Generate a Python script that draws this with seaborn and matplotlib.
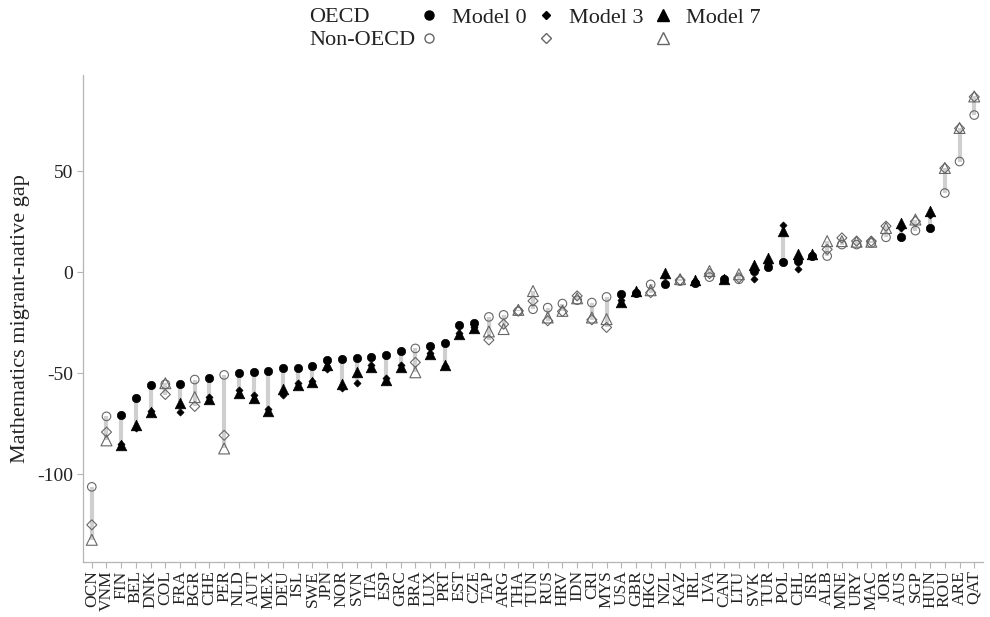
import numpy as np
import pandas as pd
import seaborn as sns
import matplotlib.pyplot as plt
from matplotlib.lines import Line2D

countries = ['OCN', 'VNM', 'FIN', 'BEL', 'DNK', 'COL', 'FRA', 'BGR', 'CHE', 'PER',
             'NLD', 'AUT', 'MEX', 'DEU', 'ISL', 'SWE', 'JPN', 'NOR', 'SVN', 'ITA',
             'ESP', 'GRC', 'BRA', 'LUX', 'PRT', 'EST', 'CZE', 'TAP', 'ARG', 'THA',
             'TUN', 'RUS', 'HRV', 'IDN', 'CRI', 'MYS', 'USA', 'GBR', 'HKG', 'NZL',
             'KAZ', 'IRL', 'LVA', 'CAN', 'LTU', 'SVK', 'TUR', 'POL', 'CHL', 'ISR',
             'ALB', 'MNE', 'URY', 'MAC', 'JOR', 'AUS', 'SGP', 'HUN', 'ROU', 'ARE', 'QAT']

oecd_members = {'FIN', 'BEL', 'DNK', 'FRA', 'CHE', 'NLD', 'AUT', 'MEX', 'DEU', 'ISL',
                'SWE', 'JPN', 'NOR', 'SVN', 'ITA', 'ESP', 'GRC', 'LUX', 'PRT', 'EST',
                'CZE', 'USA', 'GBR', 'NZL', 'IRL', 'CAN', 'SVK', 'TUR', 'POL', 'CHL',
                'ISR', 'AUS', 'HUN'}

model0 = [-106.3, -71.4, -70.9, -62.2, -55.8, -55.5, -55.3, -53.2, -52.5, -50.9,
          -49.8, -49.6, -48.8, -47.5, -47.5, -46.6, -43.5, -43.0, -42.5, -41.9,
          -40.9, -38.9, -37.8, -36.5, -35.3, -26.3, -25.0, -22.2, -21.2, -19.5,
          -18.4, -17.6, -15.6, -13.9, -15.1, -12.3, -10.7, -10.2, -6.1, -6.0,
          -4.5, -5.2, -2.5, -3.6, -3.6, 0.5, 2.5, 5.1, 5.4, 7.9,
          7.9, 13.6, 13.6, 14.4, 17.2, 17.2, 20.5, 21.8, 39.1, 54.7, 77.7]

model3 = [-125.1, -79.2, -85.0, -77.0, -69.0, -60.6, -69.3, -66.5, -62.0, -80.8,
          -58.5, -61.0, -68.0, -60.6, -55.0, -54.0, -47.9, -57.3, -54.8, -46.0,
          -52.5, -46.0, -44.7, -40.0, -46.5, -30.0, -27.0, -33.6, -25.8, -19.2,
          -14.3, -24.1, -19.5, -11.8, -23.6, -27.4, -14.0, -9.8, -10.2, -2.0,
          -4.0, -4.5, -0.8, -3.6, -2.8, -3.6, 4.0, 23.5, 1.3, 8.5,
          11.2, 16.9, 15.3, 15.3, 22.7, 22.0, 25.1, 28.0, 51.4, 71.1, 86.7]

model7 = [-132.5, -83.3, -85.7, -75.5, -69.3, -55.0, -64.9, -61.9, -62.7, -87.3,
          -60.0, -62.2, -68.8, -57.8, -55.8, -54.5, -46.0, -55.3, -49.3, -46.8,
          -53.4, -47.1, -49.6, -40.6, -45.8, -30.7, -27.7, -29.4, -28.2, -18.7,
          -9.4, -22.5, -19.2, -13.0, -22.5, -23.3, -14.6, -9.4, -9.0, -0.3,
          -3.5, -4.1, 0.5, -3.3, -1.1, 3.4, 7.0, 20.5, 9.0, 8.7,
          15.3, 15.3, 15.0, 15.0, 21.8, 24.3, 26.0, 30.0, 51.5, 71.3, 86.9]

model_labels = ['Model 0', 'Model 3', 'Model 7']

df = pd.DataFrame({'country': countries, 'm0': model0, 'm3': model3, 'm7': model7})
df['pos'] = np.arange(len(df))
df['oecd'] = df['country'].isin(oecd_members)
df['lo'] = df[['m0', 'm3', 'm7']].min(axis=1)
df['hi'] = df[['m0', 'm3', 'm7']].max(axis=1)

sns.set_theme(style='white')
plt.rcParams['font.family'] = ['Liberation Serif', 'DejaVu Serif']
plt.rcParams['axes.unicode_minus'] = False

text_col = '#222222'
hollow_col = '#666666'
axis_col = '#b5b5b5'

fig = plt.figure(figsize=(9.9, 6.17), dpi=100)
ax = fig.add_axes([0.0838, 0.0891, 0.9092, 0.7893])

ax.vlines(df['pos'], df['lo'], df['hi'], color='#cfcfcf', lw=3, zorder=1)

# marker style per model: (marker, size filled, size hollow)
styles = {'m0': ('o', 36, 38), 'm3': ('D', 13, 26), 'm7': ('^', 58, 62)}
for col, (mk, s_fill, s_hol) in styles.items():
    filled = df[df['oecd']]
    hollow = df[~df['oecd']]
    sns.scatterplot(data=filled, x='pos', y=col, marker=mk, s=s_fill,
                    color='black', edgecolor='black', linewidth=0.5,
                    ax=ax, zorder=3)
    sns.scatterplot(data=hollow, x='pos', y=col, marker=mk, s=s_hol,
                    facecolor='none', edgecolor=hollow_col, linewidth=0.8,
                    ax=ax, zorder=3)

ax.set_xlim(-0.6, len(countries) - 0.4)
ax.set_ylim(-143.5, 97.5)
ax.set_xticks(df['pos'], countries, rotation=90)
ax.set_yticks([-100, -50, 0, 50])
ax.set_xlabel('')
ax.set_ylabel('Mathematics migrant-native gap', fontsize=16, color=text_col, labelpad=5)
ax.tick_params(axis='x', labelsize=12.5, colors=axis_col, labelcolor=text_col,
               length=4, width=0.8, pad=2, bottom=True)
ax.tick_params(axis='y', labelsize=14, colors=axis_col, labelcolor=text_col,
               length=4, width=0.8, pad=3, left=True)
for side in ['top', 'right']:
    ax.spines[side].set_visible(False)
for side in ['left', 'bottom']:
    ax.spines[side].set_color(axis_col)
    ax.spines[side].set_linewidth(0.9)

# legend: filled row (OECD) and hollow row (Non-OECD)
filled_handles = [Line2D([], [], ls='', marker=m, color='black', markersize=ms)
                  for m, ms in [('o', 6.5), ('D', 4.0), ('^', 8)]]
hollow_handles = [Line2D([], [], ls='', marker=m, markerfacecolor='none',
                         markeredgecolor=hollow_col, markersize=ms)
                  for m, ms in [('o', 6.5), ('D', 5.5), ('^', 8.5)]]
leg_kw = dict(ncol=3, frameon=False, fontsize=16, handlelength=1.0,
              handletextpad=0.55, columnspacing=0.36, borderpad=0,
              borderaxespad=0, loc='center left')
leg1 = fig.legend(filled_handles, model_labels, bbox_to_anchor=(0.422, 0.971), **leg_kw)
leg2 = fig.legend(hollow_handles, model_labels, bbox_to_anchor=(0.422, 0.935), **leg_kw)
for t in leg1.get_texts():
    t.set_color(text_col)
for t in leg2.get_texts():
    t.set_visible(False)
fig.text(0.312, 0.971, 'OECD', fontsize=16, color=text_col, va='center', ha='left')
fig.text(0.312, 0.935, 'Non-OECD', fontsize=16, color=text_col, va='center', ha='left')

fig.savefig('out.png', dpi=100, facecolor='white')
